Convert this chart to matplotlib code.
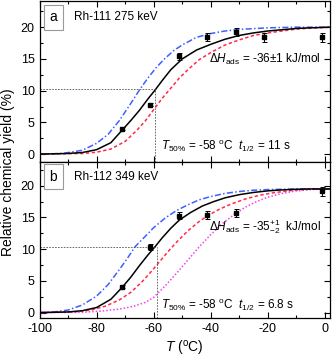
import matplotlib
matplotlib.use('Agg')
import matplotlib.pyplot as plt
from matplotlib.ticker import MultipleLocator

plt.rcParams['font.family'] = ['Liberation Sans', 'DejaVu Sans']
plt.rcParams['mathtext.fontset'] = 'custom'
plt.rcParams['mathtext.rm'] = 'Liberation Sans'
plt.rcParams['mathtext.it'] = 'Liberation Sans:italic'
plt.rcParams['axes.unicode_minus'] = False

# ---- panel a: Rh-111 ----
a_pts_t = [-71.2, -61.3, -51.1, -41.2, -31.3, -21.3, -1.2]
a_pts_y = [4.0, 7.8, 15.4, 18.5, 19.2, 18.4, 18.4]
a_pts_err = [0.2, 0.2, 0.6, 0.6, 0.6, 0.7, 0.7]

a_fit_t = [-100, -90, -85, -80, -75, -71, -68, -65, -62, -59.5, -57, -54, -50,
           -45, -40, -35, -30, -25, -20, -15, -10, -5, 2]
a_fit_y = [0, 0.1, 0.25, 0.7, 1.8, 3.8, 5.3, 6.9, 8.7, 10.1, 11.6, 13.3, 15.0,
           16.4, 17.3, 18.1, 18.7, 19.1, 19.4, 19.6, 19.8, 19.9, 20.0]
a_blue_t = [-100, -92, -85, -80, -76, -72, -68, -65, -62, -59, -56, -53, -50,
            -45, -40, -35, -30, -20, -10, 2]
a_blue_y = [0, 0.1, 0.6, 1.7, 3.1, 5.3, 8.0, 10.1, 12.0, 13.7, 15.1, 16.3, 17.2,
            18.4, 19.0, 19.4, 19.65, 19.9, 20.0, 20.0]
a_red_t = [-100, -85, -80, -75, -70, -66, -63, -60, -57, -54, -51, -48, -44,
           -40, -35, -30, -25, -20, -15, -10, -5, 2]
a_red_y = [0, 0.1, 0.3, 0.8, 2.0, 3.7, 5.2, 7.0, 8.8, 10.4, 12.0, 13.3, 14.9,
           16.0, 17.2, 18.0, 18.7, 19.1, 19.4, 19.7, 19.85, 20.0]
a_t50 = -59.5
a_y50 = 10.2

# ---- panel b: Rh-112 ----
b_pts_t = [-71.2, -61.2, -51.2, -41.2, -31.2, -1.2]
b_pts_y = [4.1, 10.3, 15.3, 15.4, 15.7, 19.1]
b_pts_err = [0.3, 0.5, 0.5, 0.6, 0.6, 0.7]

b_fit_t = [-100, -90, -85, -80, -75, -71, -68, -65, -62, -59.5, -57, -54, -51,
           -47, -43, -39, -35, -30, -25, -20, -15, -10, -5, 2]
b_fit_y = [0, 0.1, 0.3, 0.8, 2.1, 4.0, 5.6, 7.4, 9.1, 10.4, 11.8, 13.3, 14.6,
           15.8, 16.8, 17.5, 18.1, 18.6, 18.95, 19.2, 19.35, 19.45, 19.5, 19.5]
b_blue_t = [-100, -95, -90, -85, -80, -76, -72, -69, -66.5, -63, -60, -56, -52,
            -48, -44, -40, -35, -30, -25, -20, -10, 2]
b_blue_y = [0, 0.1, 0.4, 1.2, 2.6, 4.4, 6.8, 8.7, 10.4, 12.0, 13.4, 14.9, 16.1,
            17.0, 17.8, 18.3, 18.8, 19.1, 19.3, 19.4, 19.5, 19.5]
b_red_t = [-100, -88, -82, -77, -72, -68, -64, -61, -58, -55, -52, -48, -44,
           -41, -37, -33, -28, -23, -18, -12, -6, 2]
b_red_y = [0, 0.1, 0.4, 1.0, 2.0, 3.2, 4.9, 6.4, 8.0, 9.6, 11.1, 12.9, 14.4,
           15.3, 16.3, 17.1, 17.9, 18.5, 18.9, 19.25, 19.45, 19.5]
b_mag_t = [-100, -85, -78, -72, -67, -63, -60, -56, -52, -48, -44, -40, -36,
           -32, -28, -24, -20, -15, -10, -5, 2]
b_mag_y = [0, 0.05, 0.25, 0.55, 1.0, 1.6, 2.4, 4.2, 6.2, 8.3, 10.4, 12.3, 14.0,
           15.4, 16.6, 17.5, 18.2, 18.8, 19.2, 19.4, 19.5]
b_t50 = -59.0
b_y50 = 10.4

BLUE = '#3f5fff'
RED = '#ff2a4a'
MAG = '#ee44ee'

fig = plt.figure(figsize=(3.32, 3.57), dpi=100)
ax_a = fig.add_axes([0.119, 0.547, 0.8735, 0.4515])
ax_b = fig.add_axes([0.119, 0.1084, 0.8735, 0.4387])


def style_axis(ax, ylim):
    ax.set_xlim(-100, 1.6)
    ax.set_ylim(*ylim)
    ax.xaxis.set_major_locator(MultipleLocator(20))
    ax.xaxis.set_minor_locator(MultipleLocator(10))
    ax.yaxis.set_major_locator(MultipleLocator(5))
    ax.yaxis.set_minor_locator(MultipleLocator(2.5))
    ax.tick_params(which='both', direction='in', top=True, right=True,
                   labelsize=9, width=0.8)
    ax.tick_params(which='major', length=4)
    ax.tick_params(which='minor', length=2.5)
    for s in ax.spines.values():
        s.set_linewidth(0.9)


def draw_panel(ax, pts_t, pts_y, pts_err, fit, blue, red, t50, y50, ylim):
    ax.plot(blue[0], blue[1], color=BLUE, lw=1.1, ls=(0, (4, 1.5, 1, 1.5)))
    ax.plot(red[0], red[1], color=RED, lw=1.1, ls=(0, (2.2, 1.6)))
    ax.plot(fit[0], fit[1], color='black', lw=1.1)
    ax.errorbar(pts_t, pts_y, yerr=pts_err, fmt='s', color='black', ms=3,
                elinewidth=0.7, capsize=1.8, capthick=0.7, zorder=5)
    ax.plot([-100, t50], [y50, y50], color='#555555', lw=0.6, ls=(0, (2, 1.5)))
    ax.plot([t50, t50], [ylim[0], y50], color='#555555', lw=0.6, ls=(0, (2, 1.5)))
    style_axis(ax, ylim)


ylim_a = (-1.2, 24.2)
ylim_b = (-0.9, 23.8)
draw_panel(ax_a, a_pts_t, a_pts_y, a_pts_err, (a_fit_t, a_fit_y),
           (a_blue_t, a_blue_y), (a_red_t, a_red_y), a_t50, a_y50, ylim_a)
ax_b.plot(b_mag_t, b_mag_y, color=MAG, lw=1.1, ls=(0, (1, 1.3)))
draw_panel(ax_b, b_pts_t, b_pts_y, b_pts_err, (b_fit_t, b_fit_y),
           (b_blue_t, b_blue_y), (b_red_t, b_red_y), b_t50, b_y50, ylim_b)

ax_a.tick_params(labelbottom=False)

box = dict(boxstyle='square,pad=0.4', fc='white', ec='#999999', lw=0.8)
ax_a.text(0.047, 0.895, 'a', transform=ax_a.transAxes, fontsize=10,
          ha='center', va='center', bbox=box)
ax_a.text(0.12, 0.895, 'Rh-111 275 keV', transform=ax_a.transAxes,
          fontsize=8.5, va='center')
ax_b.text(0.047, 0.905, 'b', transform=ax_b.transAxes, fontsize=10,
          ha='center', va='center', bbox=box)
ax_b.text(0.12, 0.905, 'Rh-112 349 keV', transform=ax_b.transAxes,
          fontsize=8.5, va='center')

ax_a.text(-40.5, 14.4, r'$\Delta\mathit{H}_{\rm ads}$ = -36$\pm$1 kJ/mol',
          fontsize=8.5)
ax_b.text(-40.5, 12.9, r'$\Delta\mathit{H}_{\rm ads}$ = -35$^{+1}_{-2}$  kJ/mol',
          fontsize=8.5)
ax_a.text(-57.5, 0.6,
          r'$\mathit{T}_{\rm 50\%}$ = -58 $^{\rm o}$C  $\mathit{t}_{\rm 1/2}$ = 11 s',
          fontsize=8.5)
ax_b.text(-57.5, 0.6,
          r'$\mathit{T}_{\rm 50\%}$ = -58 $^{\rm o}$C  $\mathit{t}_{\rm 1/2}$ = 6.8 s',
          fontsize=8.5)

ax_b.set_xlabel(r'$\mathit{T}$ ($^{\rm o}$C)', fontsize=10, labelpad=3)
fig.text(0.025, 0.517, 'Relative chemical yield (%)', rotation=90,
         fontsize=10, ha='center', va='center')

fig.savefig('out.png', dpi=100)
